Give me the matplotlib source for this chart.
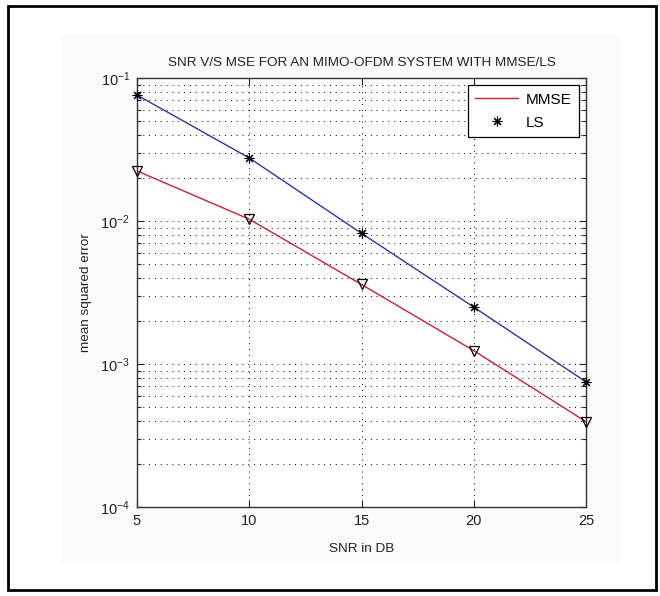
import matplotlib
matplotlib.use("Agg")
import matplotlib.pyplot as plt
from matplotlib.patches import Rectangle
from matplotlib.lines import Line2D
from matplotlib.ticker import LogLocator, NullFormatter, FixedLocator

snr_db = [5, 10, 15, 20, 25]
mse_mmse = [0.0224, 0.0103, 0.0036, 0.00124, 0.000395]
mse_ls = [0.076, 0.0276, 0.0082, 0.0025, 0.00075]
x_ticks = [5, 10, 15, 20, 25]
title_text = "SNR V/S MSE FOR AN MIMO-OFDM SYSTEM WITH MMSE/LS"
legend_labels = ["MMSE", "LS"]

plt.rcParams['font.family'] = ['Liberation Sans', 'DejaVu Sans']

fig = plt.figure(figsize=(6.6, 5.96), dpi=100)
fig.patch.set_facecolor('white')
# faint figure region
fig.patches.append(Rectangle((61/660, 1-563/596), (620-61)/660, (563-35)/596,
                             transform=fig.transFigure, facecolor='#fbfbfb',
                             edgecolor='none', zorder=-5))
# outer black border
fig.patches.append(Rectangle((8/660, 1-590/596), (656-8)/660, (590-6)/596,
                             transform=fig.transFigure, facecolor='none',
                             edgecolor='black', linewidth=2, zorder=10))

ax = fig.add_axes([137/660, 1-507/596, (586-137)/660, (507-78)/596])
ax.set_zorder(1)
ax.set_yscale('log')
ax.set_xlim(5, 25)
ax.set_ylim(1e-4, 1e-1)

asterisk = (8, 2, 0)
ax.plot(snr_db, mse_mmse, color='#cc2030', lw=1, zorder=3)
ax.plot(snr_db, mse_ls, color='#3030b0', lw=1, zorder=3)
ax.plot(snr_db, mse_mmse, linestyle='none', marker='v', markersize=7,
        markerfacecolor='none', markeredgecolor='black', markeredgewidth=0.9, zorder=4,
        clip_on=False)
ax.plot(snr_db, mse_ls, linestyle='none', marker=asterisk, markersize=7,
        color='black', markeredgewidth=0.8, zorder=4, clip_on=False)

ax.xaxis.set_major_locator(FixedLocator(x_ticks))
ax.set_xticklabels([str(v) for v in x_ticks])
ax.yaxis.set_major_locator(LogLocator(base=10, numticks=10))
ax.yaxis.set_minor_locator(LogLocator(base=10, subs=range(2, 10), numticks=20))
ax.yaxis.set_minor_formatter(NullFormatter())

ax.grid(True, which='major', axis='both', linestyle=(0, (1, 5)), color='black', lw=0.7)
ax.grid(True, which='minor', axis='y', linestyle=(0, (1, 5)), color='black', lw=0.7)
ax.tick_params(which='both', direction='in', top=True, right=True, labelsize=10.5,
               colors='#222222', width=0.8)
ax.tick_params(which='major', length=5, pad=5)
ax.tick_params(which='minor', length=3)
for s in ax.spines.values():
    s.set_color('#333333')
    s.set_linewidth(1)

ax.set_title(title_text, fontsize=9.7, pad=9, color='#222222')
ax.set_xlabel("SNR in DB", fontsize=9.7, labelpad=11, color='#222222')
ax.set_ylabel("mean squared error", fontsize=9.7, labelpad=6, color='#222222')

handles = [Line2D([], [], color='#cc2030', lw=1),
           Line2D([], [], linestyle='none', marker=asterisk, color='black',
                  markersize=7, markeredgewidth=0.8)]
leg = ax.legend(handles, legend_labels, loc='upper right', fontsize=11,
                frameon=True, fancybox=False, edgecolor='black', framealpha=1,
                borderaxespad=0.45, handlelength=2.8, labelspacing=0.6,
                borderpad=0.5, handletextpad=0.5)
leg.get_frame().set_linewidth(0.9)

fig.savefig("out.png", dpi=100)
